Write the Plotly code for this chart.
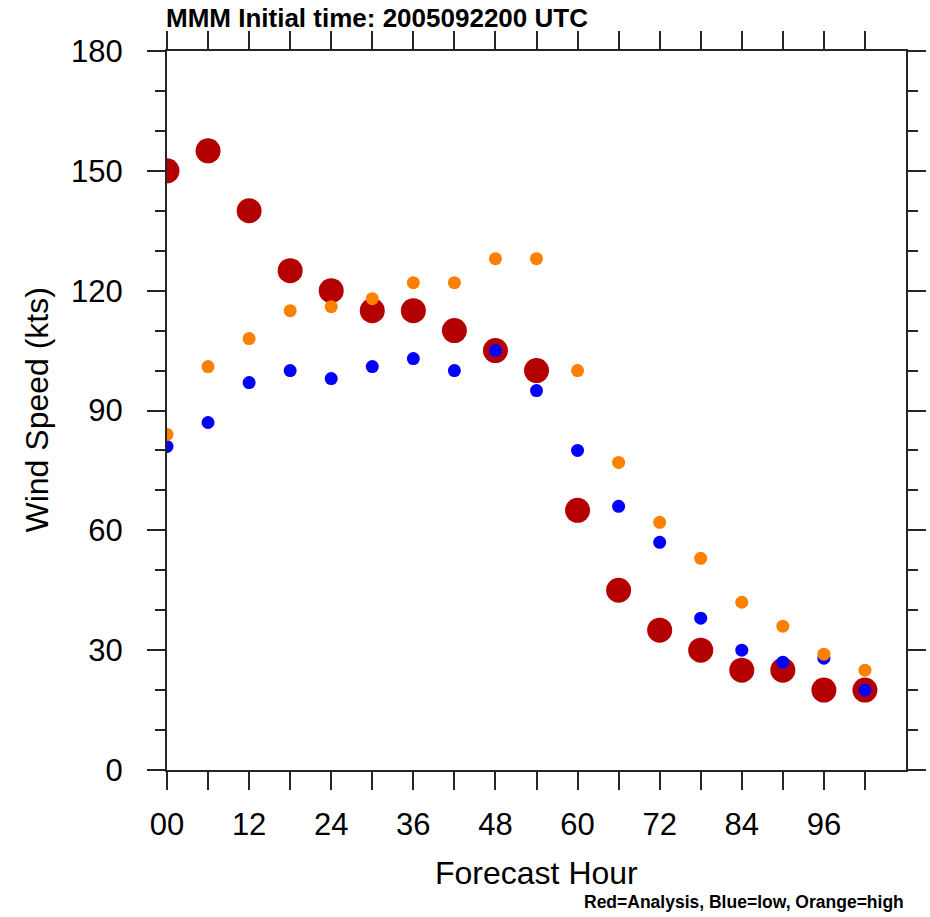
import plotly.graph_objects as go

hours = list(range(0, 103, 6))
analysis = [150, 155, 140, 125, 120, 115, 115, 110, 105, 100, 65, 45, 35, 30, 25, 25, 20, 20]
low = [81, 87, 97, 100, 98, 101, 103, 100, 105, 95, 80, 66, 57, 38, 30, 27, 28, 20]
high = [84, 101, 108, 115, 116, 118, 122, 122, 128, 128, 100, 77, 62, 53, 42, 36, 29, 25]

x_tickvals = list(range(0, 103, 6))
x_ticktext = ["00" if h == 0 else (str(h) if h % 12 == 0 else "") for h in x_tickvals]
y_tickvals = [0, 30, 60, 90, 120, 150, 180]

RED = "rgb(180,0,0)"
BLUE = "rgb(0,0,255)"
ORANGE = "rgb(255,128,0)"
AX = "#262626"
FONT = "Liberation Sans, Arial, Helvetica, sans-serif"

fig = go.Figure()
fig.add_trace(go.Scatter(x=hours, y=analysis, mode="markers",
                         marker=dict(color=RED, size=25, line=dict(width=0)), name="Analysis"))
fig.add_trace(go.Scatter(x=hours, y=low, mode="markers",
                         marker=dict(color=BLUE, size=13, line=dict(width=0)), name="low"))
fig.add_trace(go.Scatter(x=hours, y=high, mode="markers",
                         marker=dict(color=ORANGE, size=13, line=dict(width=0)), name="high"))

PW = 930 - 167 - 24
PH = 917 - 51 - 147

fig.update_layout(
    width=930, height=917,
    margin=dict(l=167, r=24, t=51, b=147, autoexpand=False),
    paper_bgcolor="white", plot_bgcolor="white",
    showlegend=False,
    font=dict(family=FONT, color="black"),
    xaxis=dict(
        range=[0, 108], tickmode="array", tickvals=x_tickvals, ticktext=x_ticktext,
        ticks="outside", ticklen=18, tickwidth=2, tickcolor=AX,
        showline=True, linecolor=AX, linewidth=2, mirror="allticks",
        showgrid=False, zeroline=False, automargin=False,
        tickfont=dict(size=31, family=FONT), ticklabelstandoff=8,
    ),
    yaxis=dict(
        range=[0, 180], tickmode="array", tickvals=y_tickvals,
        ticks="outside", ticklen=18, tickwidth=2, tickcolor=AX,
        showline=True, linecolor=AX, linewidth=2, mirror="allticks",
        showgrid=False, zeroline=False, automargin=False,
        tickfont=dict(size=31, family=FONT), ticklabelstandoff=18,
        minor=dict(dtick=10, tick0=0, ticks="outside", ticklen=10, tickwidth=1.5, tickcolor=AX, showgrid=False),
    ),
    annotations=[
        dict(text="<b>MMM Initial time: 2005092200 UTC</b>", xref="paper", yref="paper",
             x=-3 / PW, y=1 + 32.5 / PH, xanchor="left", yanchor="middle", showarrow=False,
             font=dict(size=26, family=FONT, color="black")),
        dict(text="Wind Speed (kts)", xref="paper", yref="paper",
             x=(36 - 167) / PW, y=0.5, xanchor="center", yanchor="middle", textangle=-90,
             showarrow=False, font=dict(size=32, family=FONT, color="black")),
        dict(text="Forecast Hour", xref="paper", yref="paper",
             x=0.5, y=-(873 - 770) / PH, xanchor="center", yanchor="middle",
             showarrow=False, font=dict(size=32, family=FONT, color="black")),
        dict(text="<b>Red=Analysis, Blue=low, Orange=high</b>", xref="paper", yref="paper",
             x=(906 - 167) / PW, y=-(902 - 770) / PH, xanchor="right", yanchor="middle",
             showarrow=False, font=dict(size=17.5, family=FONT, color="black")),
    ],
)

fig.write_html("out.html")
